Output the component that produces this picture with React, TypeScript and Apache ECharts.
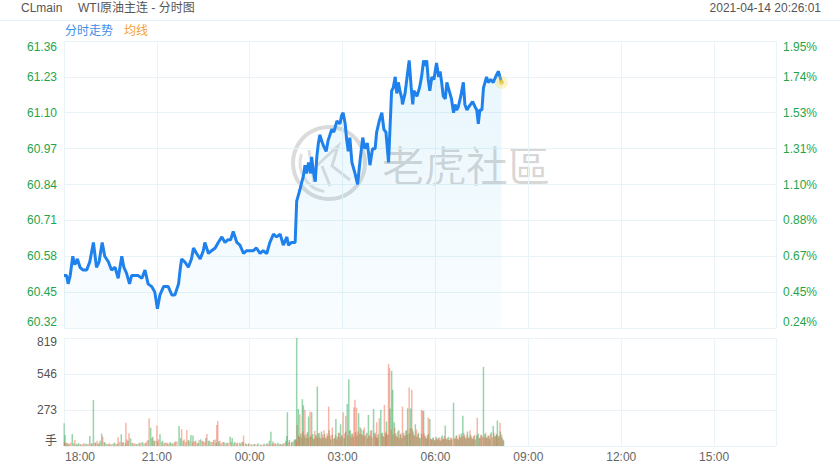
import React, { useEffect, useRef } from 'react';
import * as echarts from 'echarts';

// x values are minutes after 18:00
const timeTicks = ['18:00', '21:00', '00:00', '03:00', '06:00', '09:00', '12:00', '15:00'];
const priceTicks = ['60.32', '60.45', '60.58', '60.71', '60.84', '60.97', '61.10', '61.23', '61.36'];
const pctTicks = ['0.24%', '0.45%', '0.67%', '0.88%', '1.10%', '1.31%', '1.53%', '1.74%', '1.95%'];
const volTicks = ['手', '273', '546', '819'];

const priceData: number[][] = [
  [0, 60.51], [5, 60.51], [8, 60.48], [12, 60.51], [17, 60.58], [21, 60.55], [26, 60.57], [31, 60.54],
  [37, 60.53], [44, 60.53], [50, 60.56], [57, 60.63], [63, 60.54], [68, 60.56], [74, 60.63], [79, 60.58],
  [86, 60.56], [92, 60.53], [99, 60.54], [105, 60.50], [112, 60.58], [116, 60.54], [121, 60.52], [127, 60.48],
  [131, 60.51], [138, 60.51], [144, 60.51], [151, 60.50], [157, 60.53], [163, 60.48], [170, 60.47], [176, 60.45],
  [181, 60.39], [186, 60.44], [193, 60.47], [198, 60.47], [202, 60.47], [209, 60.44], [215, 60.44], [222, 60.48],
  [225, 60.53], [228, 60.57], [234, 60.56], [241, 60.54], [247, 60.57], [251, 60.61], [257, 60.59], [264, 60.57],
  [270, 60.60], [273, 60.63], [280, 60.59], [286, 60.60], [293, 60.61], [299, 60.63], [306, 60.65], [312, 60.63],
  [318, 60.64], [323, 60.64], [328, 60.67], [335, 60.63], [341, 60.62], [348, 60.59], [354, 60.60], [360, 60.60],
  [367, 60.60], [373, 60.61], [380, 60.59], [386, 60.60], [393, 60.59], [399, 60.63], [406, 60.66], [412, 60.65],
  [419, 60.66], [425, 60.62], [432, 60.65], [435, 60.62], [441, 60.63], [448, 60.63], [451, 60.78], [454, 60.80],
  [457, 60.82], [461, 60.85], [464, 60.87], [467, 60.91], [470, 60.88], [474, 60.92], [478, 60.88], [480, 60.94],
  [483, 60.89], [487, 60.85], [490, 60.94], [493, 60.99], [496, 61.02], [499, 61.00], [503, 60.98], [508, 60.96],
  [512, 61.00], [519, 61.04], [523, 61.03], [529, 61.07], [535, 61.06], [538, 61.09], [541, 61.10], [545, 61.06],
  [548, 61.00], [551, 60.96], [554, 61.01], [558, 60.92], [564, 60.88], [569, 60.84], [574, 60.93], [579, 61.01],
  [583, 60.97], [588, 60.99], [593, 60.91], [598, 60.97], [603, 60.97], [606, 61.03], [611, 61.07], [616, 61.10],
  [620, 61.04], [624, 61.03], [629, 60.92], [632, 61.05], [635, 61.18], [638, 61.19], [642, 61.23], [645, 61.17],
  [648, 61.21], [651, 61.18], [655, 61.15], [656, 61.13], [661, 61.17], [665, 61.23], [669, 61.29], [673, 61.19],
  [676, 61.13], [678, 61.18], [684, 61.16], [689, 61.19], [693, 61.23], [697, 61.29], [700, 61.27], [703, 61.29],
  [706, 61.22], [709, 61.18], [713, 61.23], [717, 61.22], [722, 61.28], [726, 61.23], [729, 61.25], [732, 61.21],
  [735, 61.16], [739, 61.15], [742, 61.21], [745, 61.19], [748, 61.17], [751, 61.15], [755, 61.10], [758, 61.13],
  [761, 61.11], [764, 61.12], [769, 61.16], [774, 61.21], [777, 61.13], [781, 61.11], [784, 61.12], [788, 61.13],
  [792, 61.14], [797, 61.12], [800, 61.11], [803, 61.06], [806, 61.11], [810, 61.11], [813, 61.19], [816, 61.21],
  [819, 61.23], [822, 61.21], [827, 61.22], [832, 61.21], [839, 61.24], [842, 61.25], [845, 61.23], [848, 61.21],
];

const volGreen: number[][] = [
  [0, 172], [2, 84], [6, 25], [10, 18], [16, 91], [19, 20], [24, 15], [28, 22], [33, 12], [38, 18], [44, 15],
  [50, 76], [54, 20], [57, 350], [61, 25], [66, 18], [70, 40], [73, 94], [78, 30], [83, 15], [88, 20], [93, 12],
  [98, 25], [104, 18], [111, 89], [115, 30], [119, 22], [124, 40], [129, 58], [134, 20], [140, 15], [146, 25],
  [152, 30], [158, 22], [163, 45], [168, 139], [172, 70], [176, 40], [181, 35], [186, 89], [191, 40], [196, 25],
  [201, 20], [206, 30], [211, 18], [216, 35], [223, 152], [226, 60], [231, 40], [236, 30], [241, 45], [246, 84],
  [250, 80], [255, 40], [260, 25], [265, 50], [270, 35], [275, 60], [280, 40], [285, 30], [290, 45], [295, 25],
  [300, 35], [305, 20], [310, 30], [316, 25], [322, 71], [326, 60], [331, 30], [336, 25], [342, 20], [347, 30],
  [353, 15], [358, 20], [364, 12], [370, 15], [376, 20], [382, 12], [388, 18], [394, 20], [398, 40], [401, 109],
  [405, 35], [410, 20], [415, 25], [420, 15], [425, 20], [430, 40], [432, 76], [433, 256], [437, 45], [442, 30],
  [447, 50], [449, 50], [451, 819], [454, 281], [456, 70], [459, 95], [462, 355], [464, 307], [466, 80], [469, 60],
  [472, 105], [474, 223], [477, 70], [480, 256], [482, 90], [485, 55], [488, 85], [491, 451], [493, 95], [496, 65],
  [499, 110], [502, 60], [505, 90], [508, 55], [511, 75], [514, 120], [517, 50], [520, 85], [524, 60], [527, 205],
  [530, 70], [533, 100], [536, 165], [539, 75], [543, 60], [546, 110], [549, 319], [552, 507], [555, 120], [558, 90],
  [561, 70], [565, 105], [568, 80], [571, 248], [574, 140], [577, 90], [580, 120], [583, 75], [587, 100], [590, 236],
  [593, 80], [596, 120], [600, 281], [603, 100], [606, 65], [609, 90], [614, 274], [617, 100], [620, 70], [623, 95],
  [625, 185], [628, 85], [632, 284], [635, 570], [637, 426], [640, 180], [643, 95], [646, 70], [649, 120], [652, 85],
  [655, 60], [658, 100], [661, 80], [664, 120], [666, 286], [669, 95], [672, 284], [675, 130], [678, 85], [681, 165],
  [684, 70], [687, 100], [690, 60], [693, 90], [697, 266], [700, 75], [703, 55], [706, 90], [709, 205], [712, 55],
  [715, 60], [718, 45], [721, 70], [724, 50], [727, 65], [730, 40], [733, 80], [736, 55], [739, 155], [742, 50],
  [745, 70], [748, 45], [751, 60], [755, 329], [758, 55], [761, 80], [764, 50], [767, 70], [770, 95], [773, 230],
  [776, 80], [779, 55], [782, 110], [785, 65], [788, 85], [791, 55], [794, 75], [797, 50], [800, 80], [803, 95],
  [806, 60], [809, 80], [813, 600], [816, 90], [819, 65], [822, 80], [825, 55], [828, 105], [832, 152], [835, 75],
  [838, 90], [840, 193], [843, 75], [846, 110], [849, 65], [852, 40],
];

const volRed: number[][] = [
  [1, 30], [4, 20], [8, 15], [13, 25], [21, 45], [26, 12], [31, 15], [36, 10], [41, 20], [47, 15], [53, 18],
  [60, 25], [64, 40], [68, 20], [75, 71], [80, 25], [86, 15], [91, 12], [96, 20], [101, 15], [105, 66], [108, 30],
  [113, 25], [120, 177], [122, 50], [126, 96], [132, 25], [137, 20], [143, 18], [149, 25], [155, 20], [160, 35],
  [165, 210], [170, 60], [174, 40], [180, 155], [183, 50], [189, 30], [194, 20], [199, 25], [204, 18], [209, 22],
  [214, 28], [219, 35], [228, 127], [233, 50], [238, 122], [243, 40], [249, 30], [253, 35], [258, 20], [262, 45],
  [268, 40], [273, 30], [277, 91], [282, 40], [288, 30], [293, 50], [296, 160], [298, 190], [302, 40], [308, 30],
  [313, 20], [318, 25], [324, 30], [329, 20], [334, 18], [340, 25], [345, 30], [348, 79], [352, 20], [357, 15],
  [362, 12], [368, 15], [374, 12], [380, 10], [386, 12], [392, 15], [397, 10], [404, 15], [408, 20], [413, 12],
  [418, 15], [423, 12], [428, 20], [436, 30], [441, 25], [445, 40], [450, 40], [452, 160], [455, 80], [457, 241],
  [460, 65], [463, 110], [467, 274], [470, 90], [473, 60], [477, 261], [479, 80], [483, 55], [486, 115], [489, 75],
  [492, 60], [495, 100], [498, 55], [501, 85], [504, 120], [507, 65], [510, 95], [513, 299], [516, 80], [520, 140],
  [523, 55], [526, 85], [529, 50], [532, 100], [535, 65], [538, 85], [541, 256], [544, 95], [546, 228], [550, 80],
  [553, 115], [556, 65], [559, 95], [562, 294], [564, 350], [567, 291], [570, 110], [573, 90], [576, 130], [579, 80],
  [582, 140], [585, 90], [588, 60], [591, 80], [594, 115], [597, 65], [601, 95], [604, 80], [606, 180], [608, 60],
  [611, 210], [615, 95], [618, 75], [621, 312], [624, 110], [626, 90], [629, 623], [631, 590], [634, 125], [638, 90],
  [641, 140], [644, 75], [647, 110], [650, 60], [653, 95], [656, 299], [659, 75], [662, 115], [665, 90], [669, 443],
  [671, 135], [674, 426], [677, 110], [680, 75], [683, 125], [686, 90], [689, 60], [693, 274], [695, 269], [698, 95],
  [701, 60], [704, 80], [706, 215], [710, 55], [713, 45], [716, 65], [719, 40], [722, 55], [725, 60], [728, 45],
  [731, 65], [734, 50], [737, 75], [740, 55], [743, 60], [746, 45], [749, 65], [752, 50], [757, 60], [760, 75],
  [763, 55], [766, 90], [769, 65], [772, 75], [775, 100], [778, 65], [781, 85], [784, 60], [787, 120], [790, 70],
  [793, 55], [796, 85], [801, 213], [805, 60], [808, 85], [811, 70], [814, 65], [817, 100], [820, 60], [823, 75],
  [826, 90], [830, 65], [833, 100], [836, 70], [839, 85], [842, 65], [845, 177], [848, 85], [851, 50],
];

const PRICE_MIN = 60.32;
const PRICE_MAX = 61.36;
const PRICE_STEP = 0.13;
const GREEN = '#1ea54c';
const FONT = '"Liberation Sans", "Noto Sans CJK SC", sans-serif';
const GRID_LINE = '#e9f3f8';

export default function App() {
  const ref = useRef<HTMLDivElement>(null);
  useEffect(() => {
    if (!ref.current) return;
    const chart = echarts.init(ref.current, undefined, { renderer: 'svg' });
    const last = priceData[priceData.length - 1];
    const priceIdx = (v: number) => Math.round((v - PRICE_MIN) / PRICE_STEP);
    const edgeRich = (color: string) => ({
      top: { color, fontSize: 12, fontFamily: FONT, padding: [12, 0, 0, 0] },
      bot: { color, fontSize: 12, fontFamily: FONT, padding: [0, 0, 12, 0] },
    });
    const xCommon = {
      type: 'value',
      min: 0,
      max: 1380,
      interval: 180,
      axisLine: { show: false },
      axisTick: { show: false },
      splitLine: { show: true, lineStyle: { color: GRID_LINE, width: 1 } },
    };
    const txt = (text: string, x: number, y: number, fill: string, align = 'left', size = 12, family = FONT) => ({
      type: 'text',
      x,
      y,
      silent: true,
      style: {
        text,
        fill,
        fontSize: size,
        fontFamily: family,
        align,
        verticalAlign: 'middle',
        textAlign: align,
        textVerticalAlign: 'middle',
      },
    });
    chart.setOption({
      animation: false,
      backgroundColor: '#fff',
      textStyle: { fontFamily: FONT },
      grid: [
        { left: 64, right: 64, top: 41, height: 287 },
        { left: 64, right: 64, top: 338, height: 108 },
      ],
      xAxis: [
        { ...xCommon, gridIndex: 0, axisLabel: { show: false } },
        {
          ...xCommon,
          gridIndex: 1,
          axisLabel: {
            show: true,
            color: '#666',
            fontSize: 12,
            fontFamily: FONT,
            margin: 5,
            showMaxLabel: false,
            formatter: (v: number) => {
              const i = Math.round(v / 180);
              if (v % 180 !== 0 || i >= timeTicks.length) return '';
              return i === 0 ? `{first|${timeTicks[0]}}` : timeTicks[i];
            },
            rich: { first: { color: '#666', fontSize: 12, fontFamily: FONT, padding: [0, 0, 0, 32] } },
          },
        },
      ],
      yAxis: [
        {
          type: 'value',
          gridIndex: 0,
          min: PRICE_MIN,
          max: PRICE_MAX,
          interval: PRICE_STEP,
          position: 'left',
          axisLine: { show: false },
          axisTick: { show: false },
          splitLine: { show: true, lineStyle: { color: GRID_LINE } },
          axisLabel: {
            color: GREEN,
            fontSize: 12,
            fontFamily: FONT,
            margin: 7,
            formatter: (v: number) => {
              const i = priceIdx(v);
              const t = priceTicks[i] ?? '';
              if (i === priceTicks.length - 1) return `{top|${t}}`;
              if (i === 0) return `{bot|${t}}`;
              return t;
            },
            rich: edgeRich(GREEN),
          },
        },
        {
          type: 'value',
          gridIndex: 0,
          min: PRICE_MIN,
          max: PRICE_MAX,
          interval: PRICE_STEP,
          position: 'right',
          axisLine: { show: false },
          axisTick: { show: false },
          splitLine: { show: false },
          axisLabel: {
            color: GREEN,
            fontSize: 12,
            fontFamily: FONT,
            margin: 7,
            formatter: (v: number) => {
              const i = priceIdx(v);
              const t = pctTicks[i] ?? '';
              if (i === pctTicks.length - 1) return `{top|${t}}`;
              if (i === 0) return `{bot|${t}}`;
              return t;
            },
            rich: edgeRich(GREEN),
          },
        },
        {
          type: 'value',
          gridIndex: 1,
          min: 0,
          max: 819,
          interval: 273,
          position: 'left',
          axisLine: { show: false },
          axisTick: { show: false },
          splitLine: { show: true, lineStyle: { color: GRID_LINE } },
          axisLabel: {
            color: '#555',
            fontSize: 12,
            fontFamily: FONT,
            margin: 7,
            formatter: (v: number) => {
              const i = Math.round(v / 273);
              const t = volTicks[i] ?? '';
              if (i === volTicks.length - 1) return `{top|${t}}`;
              if (i === 0) return `{bot|${t}}`;
              return t;
            },
            rich: {
              top: { color: '#555', fontSize: 12, fontFamily: FONT, padding: [8, 0, 0, 0] },
              bot: { color: '#555', fontSize: 12, fontFamily: FONT, padding: [0, 0, 10, 0] },
            },
          },
        },
      ],
      graphic: [
        { type: 'line', silent: true, shape: { x1: 0, y1: 20.5, x2: 840, y2: 20.5 }, style: { stroke: '#e4f0f6', lineWidth: 1 } },
        txt('CLmain', 21, 8, '#555'),
        txt('WTI原油主连 - 分时图', 78, 8, '#555'),
        txt('2021-04-14 20:26:01', 821, 8, '#555', 'right'),
        txt('分时走势', 65, 31, '#3d8fe6'),
        txt('均线', 124, 31, '#f5a033'),
        {
          type: 'group',
          silent: true,
          z: 0,
          children: [
            { type: 'circle', shape: { cx: 329, cy: 163, r: 36 }, style: { fill: 'none', stroke: 'rgba(0,0,0,0.14)', lineWidth: 4 } },
            { type: 'arc', shape: { cx: 329, cy: 163, r: 29, startAngle: Math.PI * 0.55, endAngle: Math.PI * 1.1 }, style: { fill: 'none', stroke: 'rgba(0,0,0,0.12)', lineWidth: 3 } },
            { type: 'polyline', shape: { points: [[309, 150], [314, 182]] }, style: { stroke: 'rgba(0,0,0,0.13)', lineWidth: 3, fill: 'none' } },
            { type: 'polyline', shape: { points: [[312, 170], [338, 146], [332, 166], [350, 180]] }, style: { stroke: 'rgba(0,0,0,0.13)', lineWidth: 3, fill: 'none' } },
            { type: 'polyline', shape: { points: [[322, 166], [330, 186]] }, style: { stroke: 'rgba(0,0,0,0.13)', lineWidth: 3, fill: 'none' } },
            txt('老虎社區', 382, 163, 'rgba(0,0,0,0.16)', 'left', 42, '"Noto Sans CJK TC", "Noto Sans CJK SC", sans-serif'),
          ],
        },
      ],
      series: [
        {
          name: '分时走势',
          type: 'line',
          xAxisIndex: 0,
          yAxisIndex: 0,
          data: priceData,
          showSymbol: false,
          z: 3,
          lineStyle: { color: '#1f82ec', width: 3 },
          areaStyle: {
            color: new echarts.graphic.LinearGradient(0, 0, 0, 1, [
              { offset: 0, color: 'rgba(0,160,230,0.13)' },
              { offset: 1, color: 'rgba(0,160,230,0.035)' },
            ]),
          },
        },
        {
          type: 'scatter',
          xAxisIndex: 0,
          yAxisIndex: 0,
          data: [last],
          symbolSize: 13,
          z: 4,
          itemStyle: { color: 'rgba(250,215,60,0.35)' },
        },
        {
          type: 'scatter',
          xAxisIndex: 0,
          yAxisIndex: 0,
          data: [last],
          symbolSize: 5,
          z: 5,
          itemStyle: { color: '#f0cf3a' },
        },
        {
          type: 'bar',
          xAxisIndex: 1,
          yAxisIndex: 2,
          data: volGreen,
          barWidth: 1.5,
          barGap: '-100%',
          itemStyle: { color: 'rgba(46,170,84,0.5)' },
        },
        {
          type: 'bar',
          xAxisIndex: 1,
          yAxisIndex: 2,
          data: volRed,
          barWidth: 1.5,
          barGap: '-100%',
          itemStyle: { color: 'rgba(238,95,62,0.45)' },
        },
      ],
    });
    return () => chart.dispose();
  }, []);
  return <div ref={ref} style={{ position: 'fixed', left: 0, top: 0, width: 840, height: 470 }} />;
}
